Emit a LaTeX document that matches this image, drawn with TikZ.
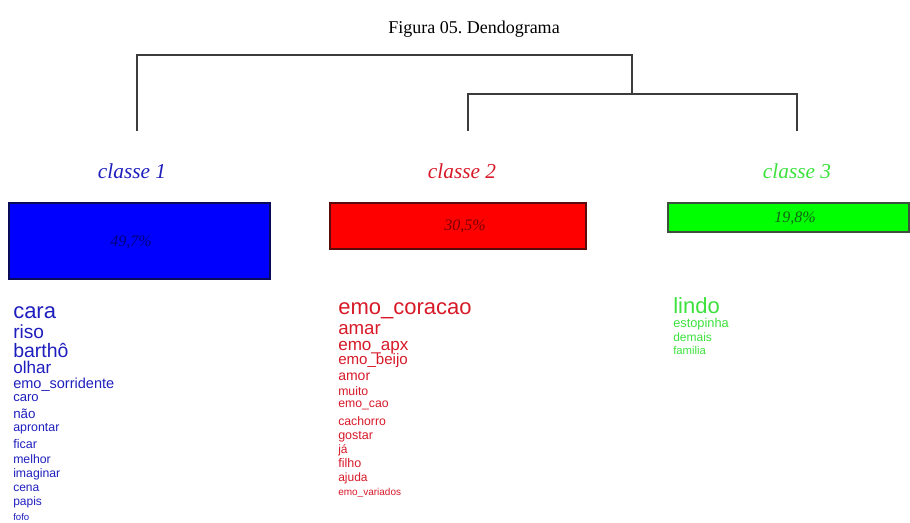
\documentclass[tikz,border=0pt]{standalone}
\usepackage{fontspec}
\setmainfont{Liberation Serif}
\setsansfont{Liberation Sans}
\usepackage{tikz}
\definecolor{wblue}{RGB}{30,30,190}
\definecolor{wred}{RGB}{215,25,40}
\definecolor{wgreen}{RGB}{60,225,60}
\definecolor{treegray}{RGB}{60,60,60}

\begin{document}
\begin{tikzpicture}[x=0.75pt, y=-0.75pt,
	classlabel/.style={font=\itshape\fontsize{16}{16}\selectfont, anchor=base, inner sep=0pt},
	pctbox/.style={draw, line width=0.8pt, inner sep=0pt},
	pct/.style={font=\itshape\fontsize{12}{12}\selectfont, inner sep=0pt},
	branch/.style={draw=treegray, line width=0.8pt}]
	\useasboundingbox (0,0) rectangle (910,522);
	\node[anchor=base, font=\fontsize{13.5}{13.5}\selectfont] (title) at (474,33) {Figura 05.\ Dendograma};
	\coordinate (l1) at (137,131);
	\coordinate (l2) at (468,131);
	\coordinate (l3) at (797,131);
	\coordinate (root) at (632,55);
	\coordinate (j23) at (632,94);
	\draw [branch] (l1) |- (root) -- (j23);
	\draw [branch] (l2) |- (j23) -| (l3);
	\node[classlabel, text=wblue] (C1) at (132,178) {classe 1};
	\node[classlabel, text=wred] (C2) at (462,178) {classe 2};
	\node[classlabel, text=wgreen] (C3) at (797,178) {classe 3};
	\node[pctbox, draw={rgb,255:red,10;green,10;blue,90}, fill=blue, minimum width=195.75pt, minimum height=57pt] (B1) at (139.5,241) {};
	\node[pctbox, draw={rgb,255:red,90;green,10;blue,10}, fill=red, minimum width=192pt, minimum height=34.5pt] (B2) at (458,226) {};
	\node[pctbox, draw={rgb,255:red,60;green,80;blue,60}, fill={rgb,255:red,0;green,255;blue,0}, minimum width=180.75pt, minimum height=21.75pt] (B3) at (788.5,217.5) {};
	\node[pct, text={rgb,255:red,0;green,0;blue,120}] (P1) at (131,242) {49,7\%};
	\node[pct, text={rgb,255:red,120;green,0;blue,0}] (P2) at (465,226) {30,5\%};
	\node[pct, text={rgb,255:red,20;green,100;blue,20}] (P3) at (795,218) {19,8\%};
	\foreach \w/\s/\y [count=\i] in {cara/16.5/318, riso/14.3/338, barthô/14.6/357, olhar/12.8/373,
		emo\_sorridente/10.9/388, caro/9.8/401, não/10/418, aprontar/9.3/431, ficar/9.4/448,
		melhor/9.2/463, imaginar/9.2/477, cena/9/491, papis/9/505, fofo/7.2/520}
		\node[anchor=base west, inner sep=0pt, text=wblue, font=\sffamily\fontsize{\s}{\s}\selectfont] (b\i) at (13,\y) {\w};
	\foreach \w/\s/\y [count=\i] in {emo\_coracao/16.5/314, amar/14/334, emo\_apx/12.8/350, emo\_beijo/11.3/364,
		amor/10.5/380, muito/9.2/395, emo\_cao/9.2/407, cachorro/9.2/425, gostar/9.4/439,
		já/9/453, filho/9.4/467, ajuda/9/481, emo\_variados/7.5/495}
		\node[anchor=base west, inner sep=0pt, text=wred, font=\sffamily\fontsize{\s}{\s}\selectfont] (r\i) at (338,\y) {\w};
	\foreach \w/\s/\y [count=\i] in {lindo/16.5/313, estopinha/9.6/327, demais/9/341, familia/8.5/354}
		\node[anchor=base west, inner sep=0pt, text=wgreen, font=\sffamily\fontsize{\s}{\s}\selectfont] (g\i) at (673,\y) {\w};
\end{tikzpicture}
\end{document}
